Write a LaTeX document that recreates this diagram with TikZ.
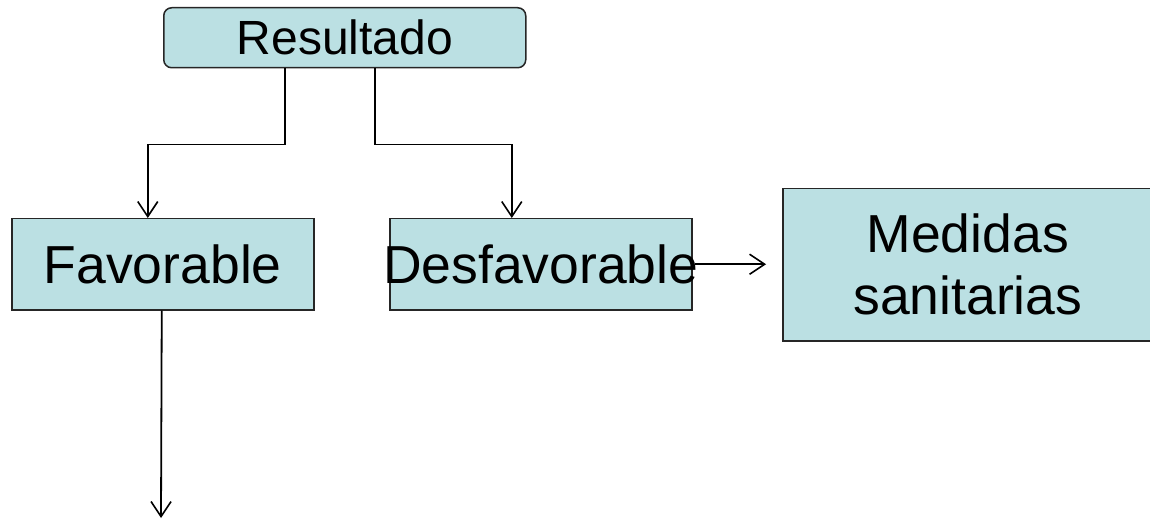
\documentclass[tikz,border=0pt]{standalone}
\usepackage{fontspec}
\setmainfont{Liberation Sans}
\usetikzlibrary{arrows.meta}
\definecolor{boxfill}{HTML}{BBE0E3}
\begin{document}
\begin{tikzpicture}[x=1pt,y=1pt,
  box/.style={draw=black!85,line width=1.5pt,fill=boxfill,inner sep=0pt,anchor=north west},
  arr/.style={line width=1.8pt,-{Straight Barb[length=15pt,width=20pt,line width=1.6pt]}},
  conn/.style={line width=1.8pt}]
\useasboundingbox (0,0) rectangle (1150,520);
\node[box,rounded corners=8pt,minimum width=362pt,minimum height=60pt,font=\fontsize{48}{52}\selectfont] (res) at (163,513) {Resultado};
\node[box,minimum width=302pt,minimum height=91pt,font=\fontsize{53.5}{56}\selectfont] (fav) at (11,302) {Favorable};
\node[box,minimum width=302pt,minimum height=91pt,font=\fontsize{53.5}{56}\selectfont] (des) at (389,302) {\makebox[302pt]{Desfavorable}};
\node[box,minimum width=370pt,minimum height=152pt,align=center,font=\fontsize{53.5}{62}\selectfont] (med) at (782,332) {Medidas\\sanitarias};
\coordinate (favend) at (161,2);
\draw[arr] ([xshift=-60pt]res.south) -- ++(0,-76) -| ([xshift=-15pt]fav.north);
\draw[arr] ([xshift=30pt]res.south) -- ++(0,-76) -| ([xshift=-29pt]des.north);
\draw[arr] ([xshift=2pt]des.east) -- ([xshift=-16pt]med.west |- des.east);
\draw[arr] ([xshift=-1pt]fav.south) -- (favend);
\end{tikzpicture}
\end{document}
